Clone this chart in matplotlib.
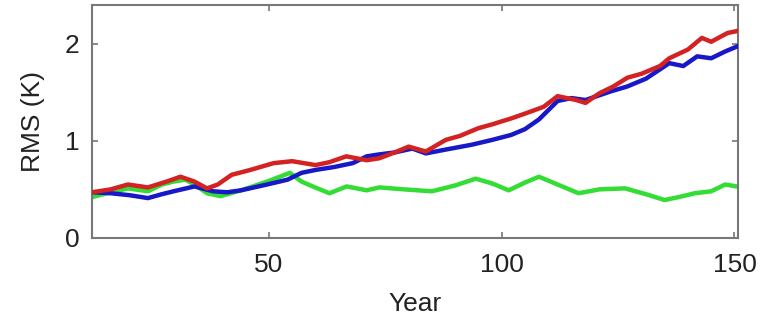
import matplotlib
matplotlib.use("Agg")
import matplotlib.pyplot as plt

# --- data ---
red_year = [12, 16, 19.7, 24, 28, 31, 34, 36.7, 39, 42, 46, 51, 55, 60, 63, 66.6, 71, 73.7,
            77, 80, 83.7, 88, 91, 95, 98, 102, 105, 109, 112, 116, 118, 121, 124, 127,
            130, 132, 134, 136, 140, 143, 145, 148.5, 150.5]
red_rms = [0.47, 0.50, 0.55, 0.52, 0.58, 0.63, 0.58, 0.51, 0.55, 0.65, 0.70, 0.77, 0.79, 0.75,
           0.78, 0.84, 0.80, 0.82, 0.88, 0.94, 0.89, 1.01, 1.05, 1.13, 1.17, 1.23, 1.28, 1.35,
           1.46, 1.42, 1.39, 1.49, 1.56, 1.65, 1.69, 1.73, 1.77, 1.85, 1.94, 2.06, 2.02, 2.11, 2.13]

blue_year = [12, 16, 20, 24, 27, 29.5, 34, 38, 41, 44, 49.6, 54, 57, 60, 64, 68, 71, 73.7,
             77, 80.8, 83.7, 88, 93.6, 98, 102, 105, 108, 112, 115, 118, 123.5, 127, 131,
             136, 139, 142, 145, 148, 150.5]
blue_rms = [0.47, 0.46, 0.44, 0.41, 0.45, 0.48, 0.53, 0.48, 0.47, 0.49, 0.55, 0.60, 0.67,
            0.70, 0.73, 0.77, 0.84, 0.86, 0.88, 0.92, 0.87, 0.91, 0.96, 1.01, 1.06, 1.12,
            1.22, 1.41, 1.44, 1.42, 1.51, 1.56, 1.64, 1.80, 1.77, 1.87, 1.85, 1.92, 1.97]

green_year = [12, 16, 19.7, 24, 27, 29.5, 32, 34, 36.7, 39.6, 44, 49.6, 54.5, 57, 59.4, 63,
              66.7, 71, 73.7, 79, 85, 90, 94.4, 98, 101.5, 105, 108, 112, 116.5, 121, 126.5,
              131, 135, 138, 141.5, 145, 148, 150.5]
green_rms = [0.42, 0.47, 0.51, 0.48, 0.55, 0.58, 0.60, 0.55, 0.46, 0.43, 0.49, 0.58, 0.67,
             0.58, 0.53, 0.46, 0.53, 0.49, 0.52, 0.50, 0.48, 0.54, 0.61, 0.56, 0.49, 0.57,
             0.63, 0.55, 0.46, 0.50, 0.51, 0.45, 0.39, 0.42, 0.46, 0.48, 0.55, 0.53]

x_ticks = [50, 100, 150]
y_ticks = [0, 1, 2]

plt.rcParams['font.family'] = ['Liberation Sans', 'DejaVu Sans']

fig = plt.figure(figsize=(7.61, 3.25), dpi=100)
ax = fig.add_axes([0.121, 0.268, 0.849, 0.717])

lw = 3.2
ax.plot(green_year, green_rms, color='#33dd33', linewidth=lw, zorder=2)
ax.plot(blue_year, blue_rms, color='#1818c8', linewidth=lw, zorder=3)
ax.plot(red_year, red_rms, color='#d42222', linewidth=lw, zorder=4)

ax.set_xlim(12, 150.8)
ax.set_ylim(0, 2.4)
ax.set_xticks(x_ticks)
ax.set_yticks(y_ticks)
ax.tick_params(direction='in', top=True, right=True, length=4, width=1.2,
               color='#777777', labelsize=19, labelcolor='#222222')
ax.tick_params(axis='x', pad=11)
ax.tick_params(axis='y', pad=9)
for s in ax.spines.values():
    s.set_color('#777777')
    s.set_linewidth(1.5)

ax.set_xlabel("Year", fontsize=19, labelpad=11, color='#222222')
ax.set_ylabel("RMS (K)", fontsize=19, labelpad=14, color='#222222')

fig.savefig("out.png", dpi=100)
